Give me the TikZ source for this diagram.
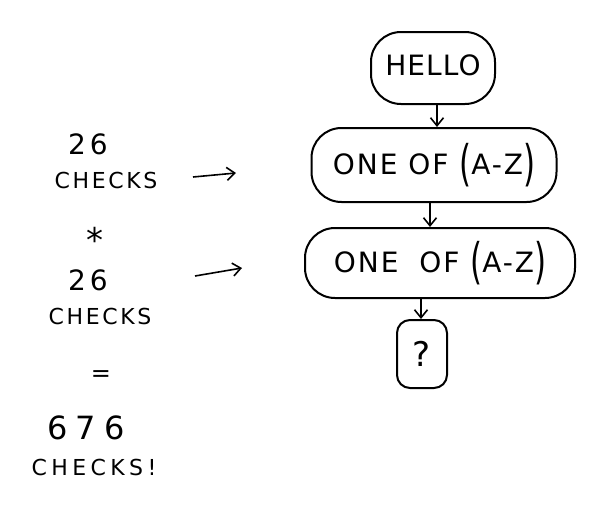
\documentclass[tikz,border=0pt]{standalone}
\usepackage{fontspec}
\usepackage{graphicx}
\setmainfont{DejaVu Sans}
\usetikzlibrary{arrows.meta}
\newcommand{\tallpar}[1]{\raisebox{-0.22em}{\scalebox{1.1}[1.75]{#1}}}
\begin{document}
\begin{tikzpicture}[x=1pt,y=-1pt,
  box/.style={draw,line width=2pt,rounded corners=30pt,inner sep=0pt,font=\fontsize{28}{30}\selectfont\addfontfeature{LetterSpace=4}},
  lbl/.style={font=\fontsize{22}{24}\selectfont\addfontfeature{LetterSpace=12}},
  num/.style={font=\fontsize{28}{30}\selectfont\addfontfeature{LetterSpace=14}},
  conn/.style={line width=1.6pt,-{Straight Barb[length=8pt,width=13pt]}}]
\useasboundingbox (0,0) rectangle (606,514);
\node[box,minimum width=124pt,minimum height=72pt,text depth=6pt] (hello) at (433,68) {HELLO};
\node[box,minimum width=245pt,minimum height=74pt,font=\fontsize{28}{30}\selectfont\addfontfeature{LetterSpace=7}] (one1) at (434,165) {ONE OF \tallpar{(}A-Z\tallpar{)}};
\node[box,minimum width=270pt,minimum height=70pt,font=\fontsize{28}{30}\selectfont\addfontfeature{LetterSpace=7}] (one2) at (440,263) {ONE\hspace{10pt} OF \tallpar{(}A-Z\tallpar{)}};
\node[box,rounded corners=13pt,minimum width=50pt,minimum height=68pt,font=\fontsize{34}{36}\selectfont] (q) at (422,354) {?};
\draw[conn] (hello.south -| 437,0) -- (one1.north -| 437,0);
\draw[conn] (one1.south -| 430,0) -- (one2.north -| 430,0);
\draw[conn] (one2.south -| 421,0) -- (q.north -| 421,0);
\node[num] (n1) at (88,144) {26};
\node[lbl] (c1) at (106,180) {CHECKS};
\coordinate (a1s) at (193,177);
\coordinate (a1e) at (236,173);
\draw[conn] (a1s) -- (a1e);
\node[font=\fontsize{34}{36}\selectfont] (star) at (95,240) {*};
\node[num] (n2) at (88,280) {26};
\node[lbl] (c2) at (100,316) {CHECKS};
\coordinate (a2s) at (195,276);
\coordinate (a2e) at (242,268);
\draw[conn] (a2s) -- (a2e);
\node[font=\fontsize{24}{26}\selectfont] (eq) at (101,376) {=};
\node[font=\fontsize{32}{34}\selectfont\addfontfeature{LetterSpace=25}] (n3) at (86,428) {676};
\node[lbl,font=\fontsize{22}{24}\selectfont\addfontfeature{LetterSpace=20}] (c3) at (94,467) {CHECKS!};
\end{tikzpicture}
\end{document}
